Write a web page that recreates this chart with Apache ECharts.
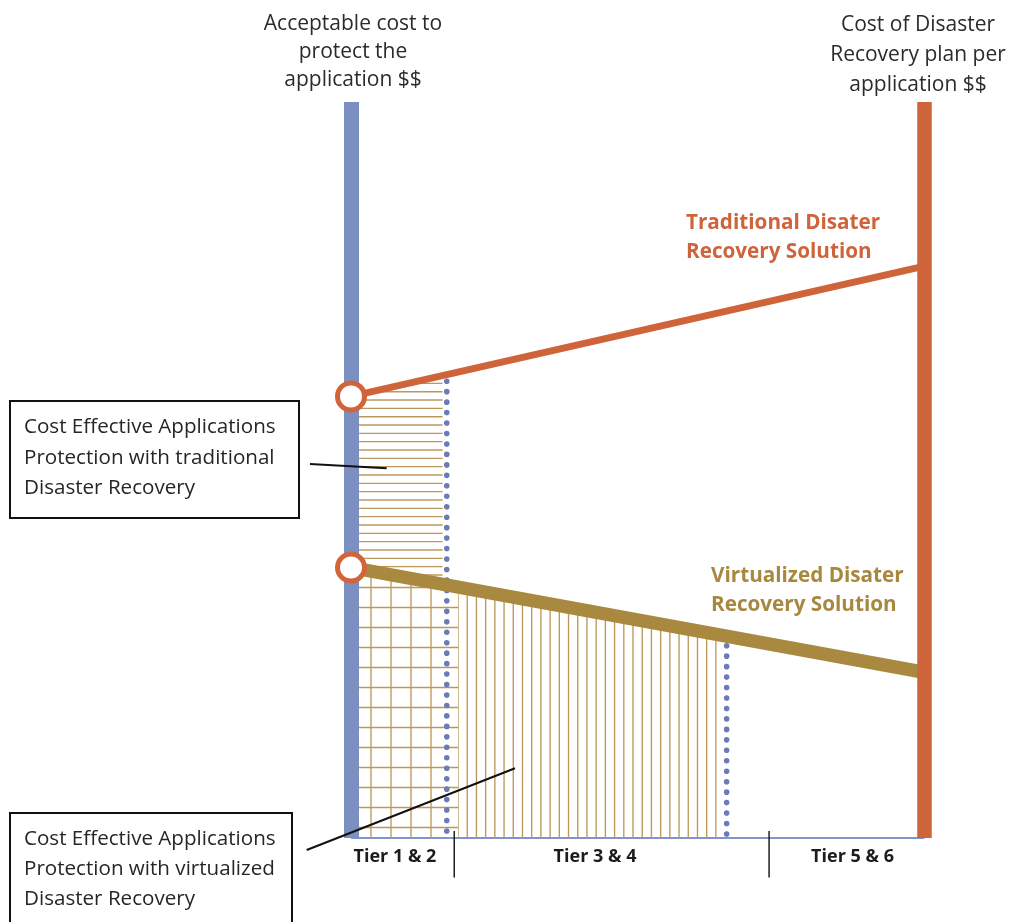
<!DOCTYPE html>
<html>
<head>
<meta charset="utf-8">
<title>Disaster Recovery cost per application tier</title>
<script src="https://cdn.jsdelivr.net/npm/echarts@6/dist/echarts.min.js"></script>
<style>
  html, body { margin: 0; padding: 0; background: #ffffff; }
  #main { width: 1011px; height: 922px; }
</style>
</head>
<body>
<div id="main"></div>
<script>
// Horizontal scale: 0 = "acceptable cost" axis, 100 = "cost of DR plan" axis.
// Vertical scale: cost, 0 on the baseline, 100 at the top of both axes.
const lineEndsX = [0, 100];
const traditionalCost = [60.0, 77.7];
const virtualizedCost = [36.75, 22.5];

// Where each solution stops being cost effective: [x, top of the dotted limit]
const traditionalLimit = [16.7, 62.9];
const virtualizedLimit = [65.5, 27.5];

// Hatched regions along the horizontal scale: [from, to]
const traditionalAreaX = [0, 16.0];
const virtualizedTier12X = [0, 18.66];
const virtualizedTier34X = [18.66, 63.8];

// Tiers along the baseline
const tierNames = ['Tier 1 & 2', 'Tier 3 & 4', 'Tier 5 & 6'];
const tierCenters = [7.67, 42.55, 87.45];
const tierBoundaries = [18.0, 72.9];

const FONT = "'Open Sans', 'Noto Sans', sans-serif";
const HATCH = { stroke: '#bc985a', lineWidth: 1.35 };

function lineAt(curve, x) {
  return curve[0] + (curve[1] - curve[0]) * (x - lineEndsX[0]) / (lineEndsX[1] - lineEndsX[0]);
}

// Custom series that fills the area between two cost lines (or a cost line and
// the baseline) with evenly spaced rows and/or columns, clipped to that area.
function hatchSeries(name, range, upper, lower, pattern) {
  return {
    type: 'custom',
    name: name,
    z: 1,
    silent: true,
    data: [range],
    renderItem: function (params, api) {
      const x0 = api.value(0), x1 = api.value(1);
      const yAt = (curve, x) => (curve ? lineAt(curve, x) : 0);
      const pts = [
        api.coord([x0, yAt(upper, x0)]),
        api.coord([x1, yAt(upper, x1)]),
        api.coord([x1, yAt(lower, x1)]),
        api.coord([x0, yAt(lower, x0)])
      ];
      const left = pts[0][0], right = pts[1][0];
      const top = Math.min(pts[0][1], pts[1][1]);
      const base = Math.max(pts[2][1], pts[3][1]);
      const baseline = api.coord([0, 0])[1];
      const children = [];
      if (pattern.rowStep) {
        for (let y = baseline - pattern.rowOffset; y > top - 1; y -= pattern.rowStep) {
          if (y > base) continue;
          children.push({ type: 'line', shape: { x1: left, y1: y, x2: right, y2: y }, style: HATCH });
        }
      }
      if (pattern.colStep) {
        const colEnd = pattern.colLimit != null ? api.coord([pattern.colLimit, 0])[0] - 4 : right + 0.5;
        for (let x = left + pattern.colOffset; x <= colEnd; x += pattern.colStep) {
          children.push({ type: 'line', shape: { x1: x, y1: top, x2: x, y2: base }, style: HATCH });
        }
      }
      return {
        type: 'group',
        clipPath: { type: 'polygon', shape: { points: pts } },
        children: children
      };
    }
  };
}

function limitSeries(name, limit, firstDotGap) {
  const step = 10.45;
  return {
    type: 'line',
    name: name,
    z: 2,
    silent: true,
    symbol: 'none',
    data: [[limit[0], 0], [limit[0], limit[1]]],
    lineStyle: {
      color: '#6a7bb8',
      width: 5.6,
      cap: 'round',
      type: [0.01, step],
      dashOffset: step - firstDotGap
    }
  };
}

const chart = echarts.init(document.getElementById('main'), null, { renderer: 'canvas' });

const option = {
  animation: false,
  backgroundColor: '#ffffff',
  grid: {
    left: 351, right: 86.5, top: 102, bottom: 84,
    containLabel: false, outerBoundsMode: 'none'
  },
  xAxis: {
    type: 'value', min: 0, max: 100,
    axisLine: { show: true, onZero: false, lineStyle: { color: '#8395c8', width: 1.8, cap: 'butt' } },
    axisTick: { show: false }, axisLabel: { show: false }, splitLine: { show: false }
  },
  yAxis: [
    {
      type: 'value', min: 0, max: 100, position: 'left', z: 3,
      name: 'Acceptable cost to\nprotect the\napplication $$',
      nameLocation: 'end', nameGap: 8,
      nameTextStyle: { color: '#2b2b2b', fontSize: 21, fontFamily: FONT, lineHeight: 28, padding: [0, 0, 0, 4] },
      axisLine: { show: true, lineStyle: { color: '#7b8fc1', width: 15, cap: 'butt' } },
      axisTick: { show: false }, axisLabel: { show: false }, splitLine: { show: false }
    },
    {
      type: 'value', min: 0, max: 100, position: 'right', z: 3,
      name: 'Cost of Disaster\nRecovery plan per\napplication $$',
      nameLocation: 'end', nameGap: 2,
      nameTextStyle: { color: '#2b2b2b', fontSize: 21, fontFamily: FONT, lineHeight: 30, padding: [0, 13, 0, 0] },
      axisLine: { show: true, lineStyle: { color: '#cd643a', width: 14.5, cap: 'butt' } },
      axisTick: { show: false }, axisLabel: { show: false }, splitLine: { show: false }
    }
  ],
  series: [
    hatchSeries('traditional area', traditionalAreaX, traditionalCost, virtualizedCost,
      { rowStep: 8.33, rowOffset: 4.8 }),
    hatchSeries('virtualized tier 1-2', virtualizedTier12X, virtualizedCost, null,
      { rowStep: 20, rowOffset: 10.5, colStep: 20, colOffset: 20, colLimit: traditionalLimit[0] }),
    hatchSeries('virtualized tier 3-4', virtualizedTier34X, virtualizedCost, null,
      { colStep: 9.21, colOffset: 0 }),
    limitSeries('traditional limit', traditionalLimit, 7),
    limitSeries('virtualized limit', virtualizedLimit, 4),
    {
      type: 'line', name: 'Traditional Disaster Recovery', z: 2, silent: true, symbol: 'none',
      data: lineEndsX.map((x, i) => [x, traditionalCost[i]]),
      lineStyle: { color: '#cf643a', width: 6.8 }
    },
    {
      type: 'line', name: 'Virtualized Disaster Recovery', z: 2, silent: true, symbol: 'none',
      data: lineEndsX.map((x, i) => [x, virtualizedCost[i]]),
      lineStyle: { color: '#a8893f', width: 13.3 }
    },
    {
      type: 'scatter', name: 'acceptable cost', z: 5, silent: true,
      data: [[lineEndsX[0], traditionalCost[0]], [lineEndsX[0], virtualizedCost[0]]],
      symbol: 'circle', symbolSize: 27,
      itemStyle: { color: '#ffffff', borderColor: '#d2643a', borderWidth: 5, opacity: 1 }
    },
    {
      type: 'custom', name: 'tier labels', z: 4, silent: true,
      data: tierCenters.map((x, i) => [x, i]),
      renderItem: function (params, api) {
        const p = api.coord([api.value(0), 0]);
        return {
          type: 'text',
          x: p[0], y: p[1] + 18.5,
          style: {
            text: tierNames[api.value(1)],
            fill: '#1c1c1c', fontSize: 18, fontWeight: 'bold', fontFamily: FONT,
            align: 'center', verticalAlign: 'middle'
          }
        };
      }
    },
    {
      type: 'custom', name: 'tier boundaries', z: 4, silent: true,
      data: tierBoundaries.map(x => [x]),
      renderItem: function (params, api) {
        const p = api.coord([api.value(0), 0]);
        return {
          type: 'line',
          shape: { x1: p[0], y1: p[1] - 7, x2: p[0], y2: p[1] + 39.5 },
          style: { stroke: '#1e1e1e', lineWidth: 1.5 }
        };
      }
    }
  ],
  graphic: [
    {
      type: 'text', z: 20, x: 686, y: 208.5,
      style: {
        text: 'Traditional Disater\nRecovery Solution',
        fill: '#cf633b', fontSize: 20.7, fontWeight: 'bold', fontFamily: FONT,
        lineHeight: 29, align: 'left', verticalAlign: 'top'
      }
    },
    {
      type: 'text', z: 20, x: 711, y: 562,
      style: {
        text: 'Virtualized Disater\nRecovery Solution',
        fill: '#a8883f', fontSize: 20.7, fontWeight: 'bold', fontFamily: FONT,
        lineHeight: 28.5, align: 'left', verticalAlign: 'top'
      }
    },
    {
      type: 'rect', z: 20,
      shape: { x: 10, y: 401, width: 289, height: 117 },
      style: { fill: '#ffffff', stroke: '#111111', lineWidth: 2 }
    },
    {
      type: 'text', z: 21, x: 24, y: 412,
      style: {
        text: 'Cost Effective Applications\nProtection with traditional\nDisaster Recovery',
        fill: '#262626', fontSize: 20.6, fontFamily: FONT,
        lineHeight: 30.5, align: 'left', verticalAlign: 'top'
      }
    },
    {
      type: 'line', z: 21,
      shape: { x1: 310, y1: 464, x2: 386.7, y2: 468.3 },
      style: { stroke: '#111111', lineWidth: 2 }
    },
    {
      type: 'rect', z: 20,
      shape: { x: 10, y: 813, width: 282, height: 140 },
      style: { fill: '#ffffff', stroke: '#111111', lineWidth: 2 }
    },
    {
      type: 'text', z: 21, x: 24, y: 824,
      style: {
        text: 'Cost Effective Applications\nProtection with virtualized\nDisaster Recovery',
        fill: '#262626', fontSize: 20.6, fontFamily: FONT,
        lineHeight: 30, align: 'left', verticalAlign: 'top'
      }
    },
    {
      type: 'line', z: 21,
      shape: { x1: 306.7, y1: 850, x2: 515, y2: 768.3 },
      style: { stroke: '#111111', lineWidth: 2 }
    }
  ]
};

chart.setOption(option);
</script>
</body>
</html>
